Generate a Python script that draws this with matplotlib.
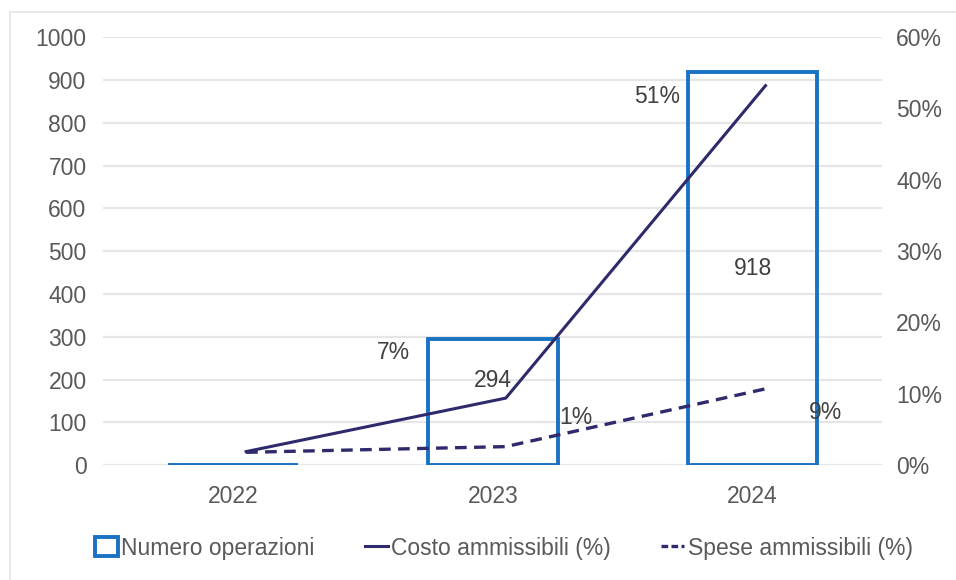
import numpy as np
import matplotlib.pyplot as plt
from matplotlib.lines import Line2D
from matplotlib.patches import Patch

years = ["2022", "2023", "2024"]
numero_operazioni = [0, 294, 918]
costo_ammissibili = [1.9, 9.4, 53.2]
spese_ammissibili = [1.8, 2.6, 10.7]
costo_labels = ["", "7%", "51%"]
spese_labels = ["", "1%", "9%"]

BLUE = "#1a73c2"
NAVY = "#2e2a6c"
GREY = "#595959"

plt.rcParams["font.family"] = ["Liberation Sans", "DejaVu Sans"]
plt.rcParams["font.size"] = 16.5

fig = plt.figure(figsize=(9.56, 5.8), dpi=100)
ax = fig.add_axes([0.108, 0.198, 0.815, 0.738])
ax2 = ax.twinx()

x = np.arange(len(years))
ax.bar(x, numero_operazioni, 0.5, color="none", edgecolor=BLUE, linewidth=2.8, zorder=3)
ax.set_ylim(0, 1000)
ax.set_yticks(np.arange(0, 1001, 100))
ax.set_xlim(-0.5, 2.5)
ax.set_xticks(x, years)
ax.grid(axis="y", color="#e6e6e6", linewidth=1.6, zorder=0)
ax.set_axisbelow(True)

# lines sit a bit right of the category centres, like in the original
xl = x + 0.05
ax2.plot(xl, costo_ammissibili, color=NAVY, linewidth=2.2, zorder=4)
ax2.plot(xl, spese_ammissibili, color=NAVY, linewidth=2.4, linestyle=(0, (3.5, 2.2)), zorder=4)
ax2.set_ylim(0, 60)
ax2.set_yticks(np.arange(0, 61, 10), [f"{v}%" for v in range(0, 61, 10)])

for a in (ax, ax2):
    for s in a.spines.values():
        s.set_visible(False)
    a.tick_params(length=0, colors=GREY, labelsize=16.5)
ax.tick_params(axis="y", pad=12)
ax.tick_params(axis="x", pad=14)
ax2.tick_params(axis="y", pad=10)

# data labels
bar_offsets = [(0, 0), (0, 22), (0, 0)]
for i, v in enumerate(numero_operazioni):
    if v:
        ax.annotate(str(v), (x[i], v / 2), xytext=bar_offsets[i], textcoords="offset pixels",
                    ha="center", va="center", color="#404040", zorder=5)
costo_offsets = [(0, 0), (-112, 46), (-108, -11)]
spese_offsets = [(0, 0), (70, 29), (60, -24)]
for i in range(len(years)):
    if costo_labels[i]:
        ax2.annotate(costo_labels[i], (xl[i], costo_ammissibili[i]), xytext=costo_offsets[i],
                     textcoords="offset pixels", ha="center", va="center", color="#404040")
    if spese_labels[i]:
        ax2.annotate(spese_labels[i], (xl[i], spese_ammissibili[i]), xytext=spese_offsets[i],
                     textcoords="offset pixels", ha="center", va="center", color="#404040")

handles = [Patch(facecolor="white", edgecolor=BLUE, linewidth=2.8),
           Line2D([], [], color=NAVY, linewidth=2.2),
           Line2D([], [], color=NAVY, linewidth=2.4, linestyle=(0, (2, 1)))]
labels = ["Numero operazioni", "Costo ammissibili (%)", "Spese ammissibili (%)"]
leg = fig.legend(handles, labels, loc="center", bbox_to_anchor=(0.527, 0.055), ncol=3,
                 frameon=False, handlelength=1.0, handleheight=0.9, handletextpad=0.15,
                 columnspacing=2.2, fontsize=16.5)
for t in leg.get_texts():
    t.set_color(GREY)

# light frame around the chart
fig.add_artist(Line2D([10 / 956, 10 / 956], [0, 1 - 12 / 580], color="#e4e4e4", linewidth=1.2))
fig.add_artist(Line2D([10 / 956, 1], [1 - 12 / 580, 1 - 12 / 580], color="#e4e4e4", linewidth=1.2))

fig.savefig("out.png", dpi=100)
